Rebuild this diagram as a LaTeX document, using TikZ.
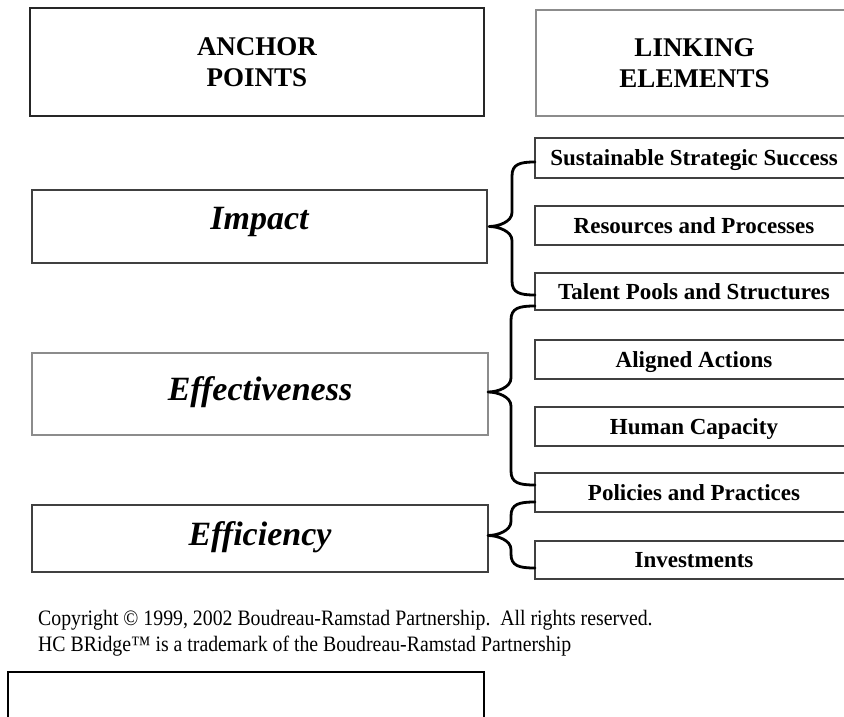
\documentclass[tikz,border=0pt]{standalone}
\usepackage{fontspec}
\usepackage{graphicx}
\setmainfont{Liberation Serif}
\usetikzlibrary{calc}
\begin{document}
\begin{tikzpicture}[x=1pt,y=-1pt,
  box/.style={draw=black!75,line width=1.3pt,inner sep=0pt,outer sep=0pt},
  lbox/.style={box,draw=black!45},
  head/.style={font=\fontsize{27}{31}\selectfont\bfseries,align=center},
  anchortxt/.style={font=\fontsize{34}{38}\selectfont\bfseries\itshape,text depth=0pt,inner sep=0pt},
  linkbox/.style={box,minimum width=318pt,font=\fontsize{23}{26}\selectfont\bfseries,text depth=0pt},
  brace/.style={draw=black,line width=2.8pt,line cap=round,line join=round},
  note/.style={font=\fontsize{22}{26}\selectfont,anchor=base west,inner sep=0pt}]
\useasboundingbox (0,0) rectangle (844,717);
\fill[white] (0,0) rectangle (844,717);
\clip (0,0) rectangle (844,717);

% headers
\node[box,draw=black!85,minimum width=454pt,minimum height=108pt,head] (anchorhdr) at (257,62) {ANCHOR\\POINTS};
\node[lbox,minimum width=317pt,minimum height=106pt,head] (linkhdr) at (694.5,63) {LINKING\\ELEMENTS};

% anchor boxes
\node[box,minimum width=455pt,minimum height=73pt] (impact) at (259.5,226.5) {};
\node[anchortxt] (impactt) at (259.5,218.5) {Impact};
\node[lbox,minimum width=456pt,minimum height=82pt] (effect) at (260,394) {};
\node[anchortxt] (effectt) at (260,389) {Effectiveness};
\node[box,minimum width=456pt,minimum height=67pt] (effic) at (260,538.5) {};
\node[anchortxt] (effict) at (260,534) {Efficiency};

% linking boxes
\node[linkbox,minimum height=40pt] (sss) at (694,158) {Sustainable Strategic Success};
\node[linkbox,minimum height=39pt] (rap) at (694,225.5) {Resources and Processes};
\node[linkbox,minimum height=37pt] (tps) at (694,291.5) {Talent Pools and Structures};
\node[linkbox,minimum height=39pt] (aa) at (694,359.5) {Aligned Actions};
\node[linkbox,minimum height=39pt] (hc) at (694,426.5) {Human Capacity};
\node[linkbox,minimum height=39pt] (pp) at (694,492.5) {Policies and Practices};
\node[linkbox,minimum height=38pt] (inv) at (694,560) {Investments};

% braces
\newcommand{\mybrace}[3]{%
 \draw[brace] let \p1=(#1), \p2=(#2), \p3=(#3), \p4=($(#2)+(23,0)$) in
 (\p1) .. controls (\x4+8pt,\y1) and (\x4,\y1-2pt) .. (\x4,\y1-14pt)
 -- (\x4,\y2+14pt) .. controls (\x4,\y2+5pt) and (\x2+10pt,\y2) .. (\p2)
 .. controls (\x2+10pt,\y2) and (\x4,\y2-5pt) .. (\x4,\y2-14pt)
 -- (\x4,\y3+14pt) .. controls (\x4,\y3+2pt) and (\x4+8pt,\y3) .. (\p3);}
\coordinate (ia) at ($(sss.west)+(0,4)$);
\coordinate (it) at ($(impact.east)+(2,0)$);
\coordinate (ib) at ($(tps.west)+(0,3.5)$);
\coordinate (ea) at ($(tps.west)+(0,14.5)$);
\coordinate (et) at ($(effect.east)+(0,-2)$);
\coordinate (eb) at ($(pp.west)+(0,-7.5)$);
\coordinate (fa) at ($(pp.west)+(0,9.5)$);
\coordinate (ft) at ($(effic.east)+(0,-3)$);
\coordinate (fb) at ($(inv.west)+(0,8)$);
\mybrace{ia}{it}{ib}
\mybrace{ea}{et}{eb}
\mybrace{fa}{ft}{fb}

% copyright
\node[note] (copy1) at (38,625) {\scalebox{0.9}[1]{Copyright © 1999, 2002 Boudreau-Ramstad Partnership.\ \ All rights reserved.}};
\node[note] (copy2) at (38,651) {\scalebox{0.9}[1]{HC BRidge™ is a trademark of the Boudreau-Ramstad Partnership}};

% blank box
\node[draw=black,line width=1.3pt,minimum width=476pt,minimum height=60pt,inner sep=0pt] (blank) at (246,702) {};
\end{tikzpicture}
\end{document}
